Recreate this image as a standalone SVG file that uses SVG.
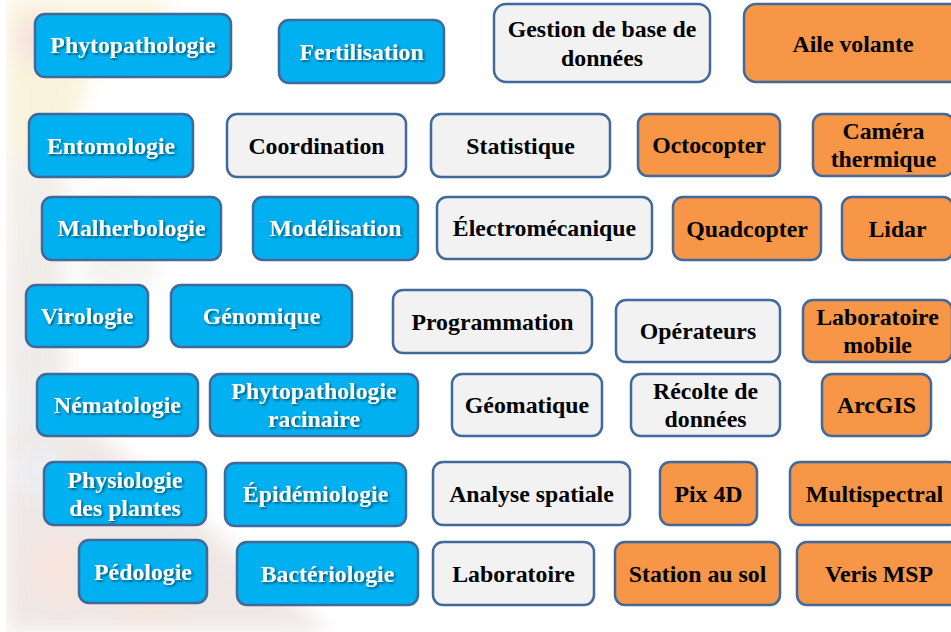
<svg xmlns="http://www.w3.org/2000/svg" width="951" height="632" viewBox="0 0 951 632">
<defs>
<style>
.n rect{stroke:#41699A;stroke-width:2.5}
.b rect{fill:#00B0F0}
.g rect{fill:#F2F2F2}
.o rect{fill:#F79646}
.n text{font-family:"Liberation Serif","Times New Roman",serif;font-weight:bold;font-size:23.8px;text-anchor:middle}
.b text{fill:#FFFFFF;filter:url(#sh)}
.g text,.o text{fill:#000000}
</style>
<filter id="sh" x="-10%" y="-30%" width="130%" height="170%">
<feDropShadow dx="1.5" dy="1.5" stdDeviation="1" flood-color="#000" flood-opacity="0.55"/>
</filter>
<filter id="blur" x="-20%" y="-20%" width="140%" height="140%">
<feGaussianBlur stdDeviation="10"/>
</filter>
<linearGradient id="strip" x1="0" y1="0" x2="0" y2="1">
<stop offset="0" stop-color="#E8D27A"/>
<stop offset="0.25" stop-color="#C9B8A0"/>
<stop offset="0.5" stop-color="#B8A89A"/>
<stop offset="0.75" stop-color="#A9B0B8"/>
<stop offset="1" stop-color="#C88A70"/>
</linearGradient>
</defs>
<rect x="0" y="0" width="951" height="632" fill="#FFFFFF"/>
<g id="background" opacity="0.22">
<g filter="url(#blur)">
<rect x="6" y="0" width="60" height="632" fill="url(#strip)"/>
<path d="M6 0 L170 0 L150 60 L90 70 L70 140 L6 160 Z" fill="#E6C85A"/>
<circle cx="40" cy="40" r="26" fill="#D87A6A"/>
<path d="M6 430 L95 430 L330 632 L6 632 Z" fill="#B89488"/>
<circle cx="60" cy="570" r="34" fill="#D88A6A"/>
<circle cx="150" cy="605" r="28" fill="#D0906A"/>
<circle cx="40" cy="470" r="28" fill="#B0B4C0"/>
<path d="M70 200 L130 190 L160 280 L90 300 Z" fill="#D0C8BA"/>
</g>
</g>
<rect x="0" y="0" width="6" height="632" fill="#FFFFFF"/>
<g id="connectors"></g>

<g id="n-phytopathologie" class="n b"><rect x="35" y="14" width="196" height="63" rx="10"/><text x="133" y="53">Phytopathologie</text></g>
<g id="n-fertilisation" class="n b"><rect x="279" y="20" width="165" height="63" rx="10"/><text x="361.5" y="60">Fertilisation</text></g>
<g id="n-entomologie" class="n b"><rect x="29" y="114" width="164" height="63" rx="10"/><text x="111" y="154">Entomologie</text></g>
<g id="n-malherbologie" class="n b"><rect x="42" y="197" width="179" height="63" rx="10"/><text x="131.5" y="236">Malherbologie</text></g>
<g id="n-modelisation" class="n b"><rect x="253" y="197" width="165" height="63" rx="10"/><text x="335.5" y="236">Modélisation</text></g>
<g id="n-virologie" class="n b"><rect x="26" y="285" width="122" height="62" rx="10"/><text x="87" y="324">Virologie</text></g>
<g id="n-genomique" class="n b"><rect x="171" y="285" width="181" height="62" rx="10"/><text x="261.5" y="324">Génomique</text></g>
<g id="n-nematologie" class="n b"><rect x="37" y="374" width="161" height="62" rx="10"/><text x="117.5" y="413">Nématologie</text></g>
<g id="n-phytopathologie-racinaire" class="n b"><rect x="210" y="374" width="208" height="62" rx="10"/><text x="314" y="399">Phytopathologie</text><text x="314" y="427">racinaire</text></g>
<g id="n-physiologie" class="n b"><rect x="44" y="462" width="162" height="63" rx="10"/><text x="125" y="488">Physiologie</text><text x="125" y="516">des plantes</text></g>
<g id="n-epidemiologie" class="n b"><rect x="225" y="463" width="181" height="63" rx="10"/><text x="315.5" y="502">Épidémiologie</text></g>
<g id="n-pedologie" class="n b"><rect x="79" y="540" width="128" height="63" rx="10"/><text x="143" y="580">Pédologie</text></g>
<g id="n-bacteriologie" class="n b"><rect x="237" y="542" width="181" height="63" rx="10"/><text x="327.5" y="582">Bactériologie</text></g>

<g id="n-gestion" class="n g"><rect x="494" y="4" width="216" height="78" rx="12"/><text x="602" y="37">Gestion de base de</text><text x="602" y="66">données</text></g>
<g id="n-coordination" class="n g"><rect x="227" y="114" width="179" height="63" rx="10"/><text x="316.5" y="154">Coordination</text></g>
<g id="n-statistique" class="n g"><rect x="431" y="114" width="179" height="63" rx="10"/><text x="520.5" y="154">Statistique</text></g>
<g id="n-electromecanique" class="n g"><rect x="437" y="197" width="215" height="62" rx="10"/><text x="544.5" y="236">Électromécanique</text></g>
<g id="n-programmation" class="n g"><rect x="393" y="290" width="199" height="63" rx="10"/><text x="492.5" y="330">Programmation</text></g>
<g id="n-operateurs" class="n g"><rect x="616" y="300" width="164" height="62" rx="10"/><text x="698" y="339">Opérateurs</text></g>
<g id="n-geomatique" class="n g"><rect x="452" y="374" width="150" height="62" rx="10"/><text x="527" y="413">Géomatique</text></g>
<g id="n-recolte" class="n g"><rect x="631" y="374" width="149" height="62" rx="10"/><text x="705.5" y="399">Récolte de</text><text x="705.5" y="427">données</text></g>
<g id="n-analyse" class="n g"><rect x="433" y="462" width="197" height="63" rx="10"/><text x="531.5" y="502">Analyse spatiale</text></g>
<g id="n-laboratoire" class="n g"><rect x="433" y="542" width="161" height="63" rx="10"/><text x="513.5" y="582">Laboratoire</text></g>

<g id="n-aile" class="n o"><rect x="744" y="4" width="218" height="78" rx="12"/><text x="853" y="52">Aile volante</text></g>
<g id="n-octocopter" class="n o"><rect x="638" y="114" width="142" height="62" rx="10"/><text x="709" y="153">Octocopter</text></g>
<g id="n-camera" class="n o"><rect x="813" y="114" width="141" height="62" rx="10"/><text x="883.5" y="139">Caméra</text><text x="883.5" y="167">thermique</text></g>
<g id="n-quadcopter" class="n o"><rect x="673" y="197" width="148" height="63" rx="10"/><text x="747" y="237">Quadcopter</text></g>
<g id="n-lidar" class="n o"><rect x="842" y="197" width="111" height="63" rx="10"/><text x="897.5" y="237">Lidar</text></g>
<g id="n-labo-mobile" class="n o"><rect x="803" y="300" width="149" height="62" rx="10"/><text x="877.5" y="325">Laboratoire</text><text x="877.5" y="353">mobile</text></g>
<g id="n-arcgis" class="n o"><rect x="822" y="374" width="109" height="62" rx="10"/><text x="876.5" y="413">ArcGIS</text></g>
<g id="n-pix4d" class="n o"><rect x="660" y="462" width="97" height="63" rx="10"/><text x="708.5" y="502">Pix 4D</text></g>
<g id="n-multispectral" class="n o"><rect x="790" y="462" width="169" height="63" rx="10"/><text x="874.5" y="502">Multispectral</text></g>
<g id="n-station" class="n o"><rect x="615" y="542" width="165" height="63" rx="10"/><text x="697.5" y="582">Station au sol</text></g>
<g id="n-veris" class="n o"><rect x="797" y="542" width="164" height="63" rx="10"/><text x="879" y="582">Veris MSP</text></g>
</svg>
